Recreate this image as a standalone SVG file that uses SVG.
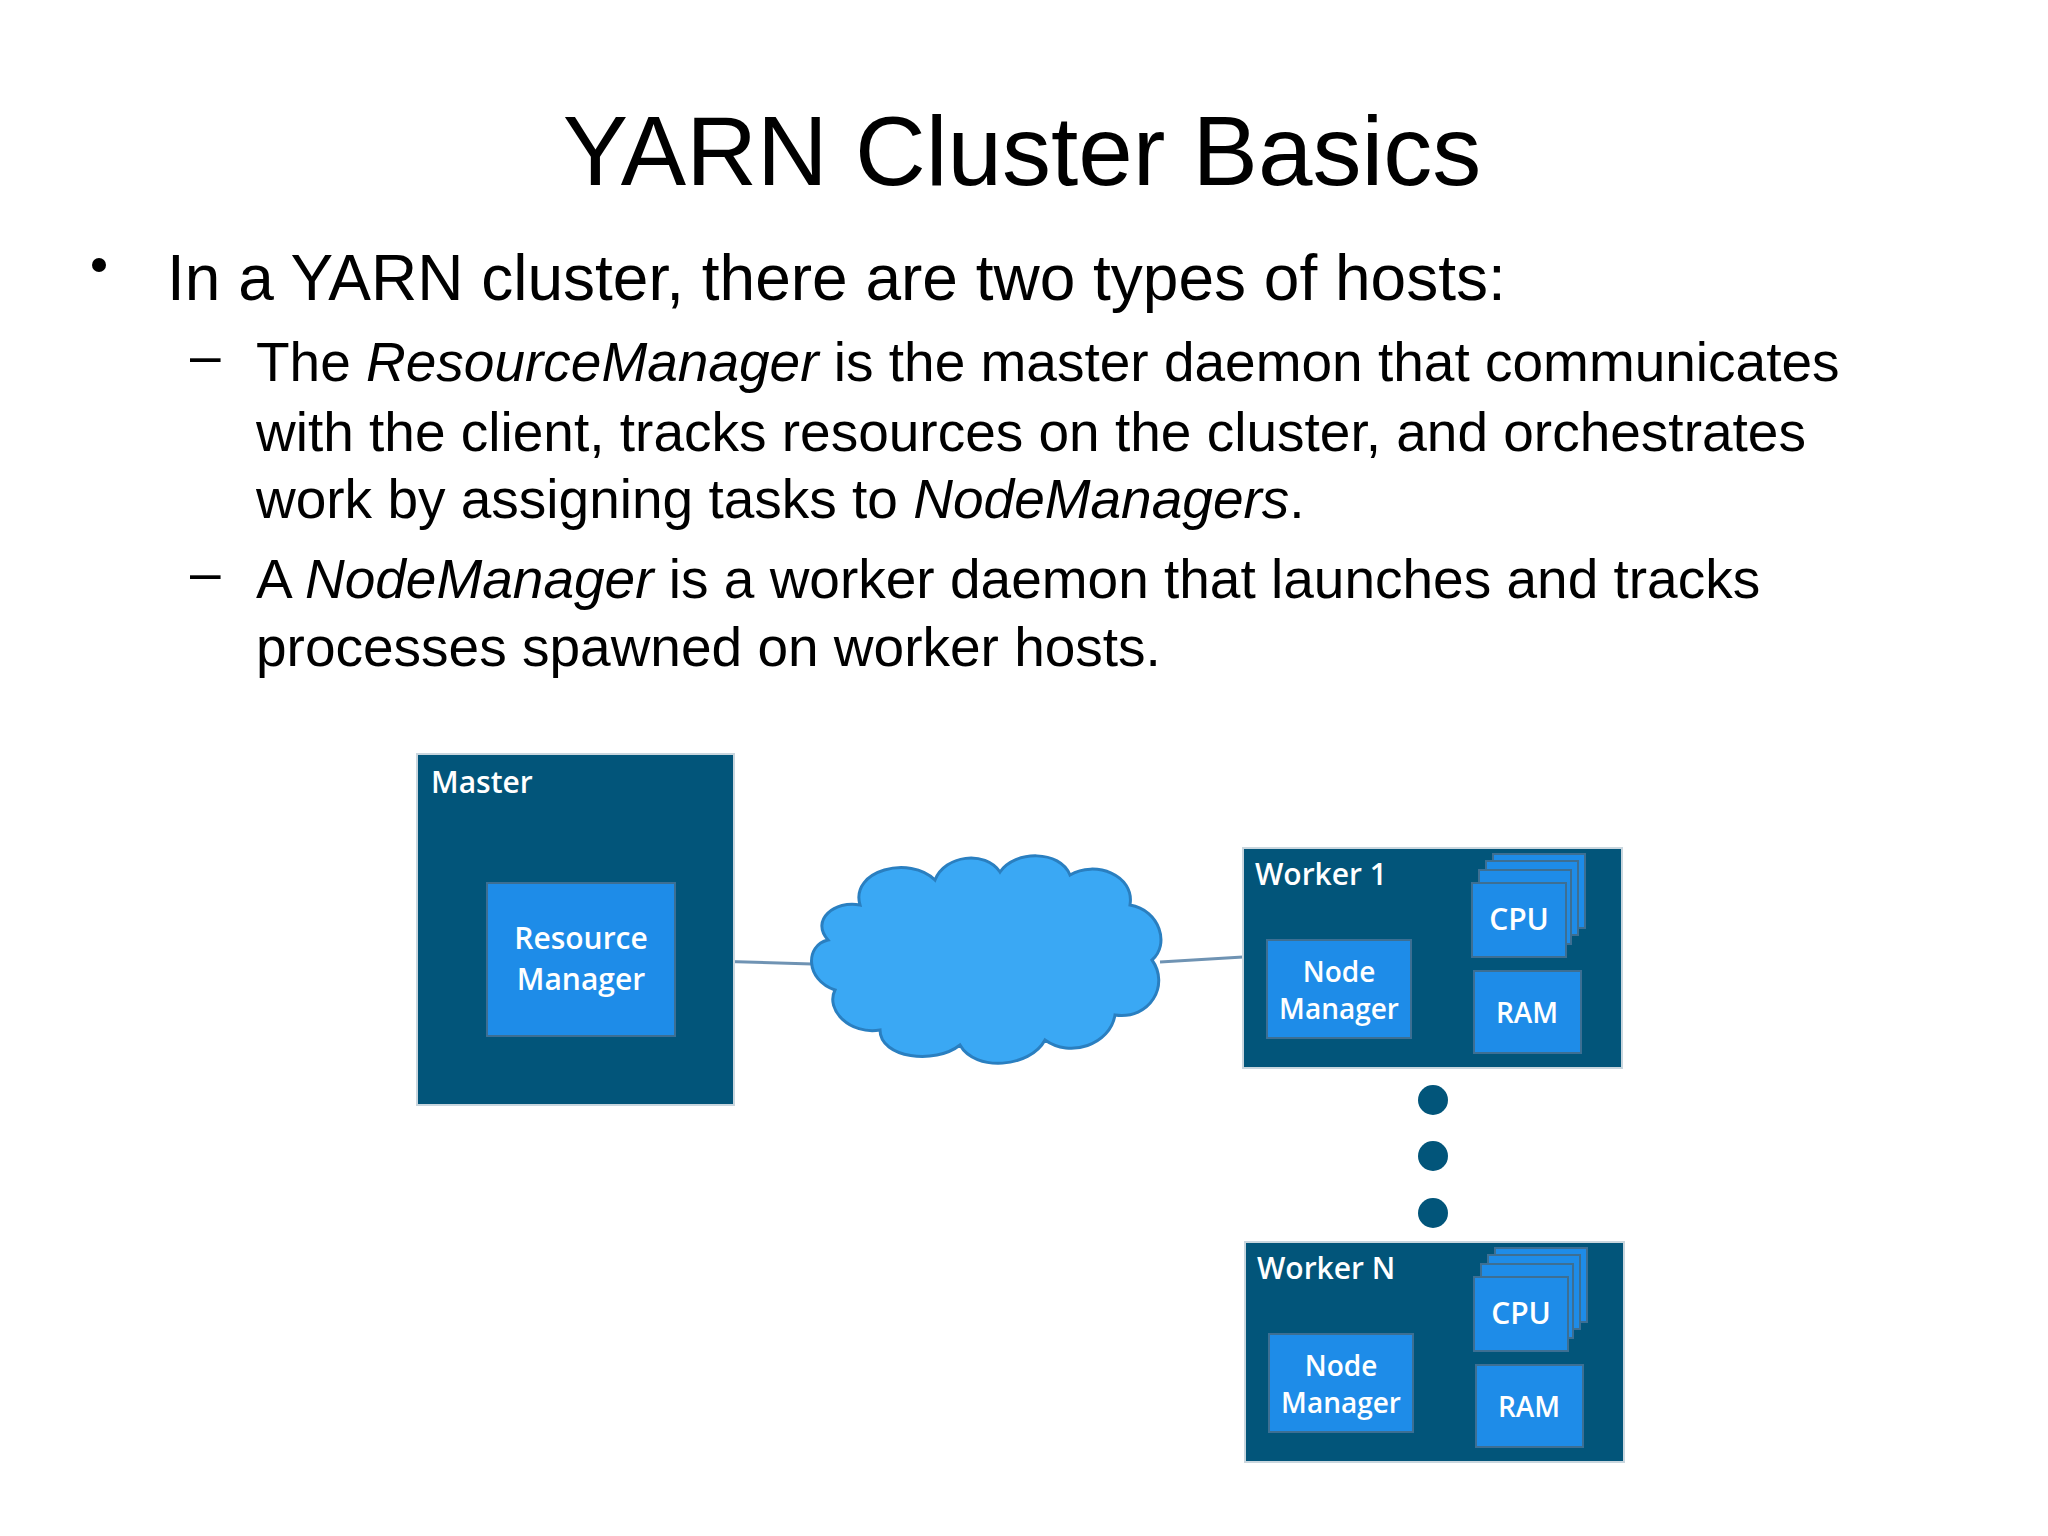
<svg xmlns="http://www.w3.org/2000/svg" width="2048" height="1536" viewBox="0 0 2048 1536">
<style>
.t{font-family:"Liberation Sans",Arial,sans-serif;fill:#000}
.b{font-family:"Open Sans","Liberation Sans",sans-serif;font-weight:600;fill:#fff}
.host{fill:#02557a;stroke:#c9d6de;stroke-width:2}
.box{fill:#1e8ce8;stroke:#3d6f93;stroke-width:2}
</style>
<rect width="2048" height="1536" fill="#fff"/>
<text class="t" x="1022" y="185" font-size="98" text-anchor="middle">YARN Cluster Basics</text>
<circle cx="99" cy="265" r="7" fill="#000"/>
<text class="t" x="167" y="300" font-size="64">In a YARN cluster, there are two types of hosts:</text>
<g class="t" font-size="55">
<text x="190" y="374">–</text>
<text x="256" y="381">The <tspan font-style="italic">ResourceManager</tspan> is the master daemon that communicates</text>
<text x="256" y="451">with the client, tracks resources on the cluster, and orchestrates</text>
<text x="256" y="518">work by assigning tasks to <tspan font-style="italic">NodeManagers</tspan>.</text>
<text x="190" y="591">–</text>
<text x="256" y="598">A <tspan font-style="italic">NodeManager</tspan> is a worker daemon that launches and tracks</text>
<text x="256" y="666">processes spawned on worker hosts.</text>
</g>
<g id="connectors" stroke="#6f93b3" stroke-width="3" fill="none">
<line x1="675" y1="960" x2="812" y2="964"/>
<line x1="1160" y1="962" x2="1243" y2="957"/>
</g>
<g id="master">
<rect class="host" x="417" y="754" width="317" height="351"/>
<text class="b" x="431" y="793" font-size="30">Master</text>
<rect class="box" x="487" y="883" width="188" height="153"/>
<text class="b" x="581" y="949" font-size="30" text-anchor="middle">Resource</text>
<text class="b" x="581" y="990" font-size="30" text-anchor="middle">Manager</text>
</g>
<g id="cloud">
<path d="M860,905 C850,870 910,855 935,880 C945,855 985,850 1000,872 C1015,850 1060,850 1070,875 C1095,860 1135,875 1130,905 C1160,910 1170,945 1152,960 C1170,985 1150,1020 1115,1015 C1110,1045 1070,1058 1045,1040 C1030,1068 975,1072 960,1045 C935,1065 880,1058 880,1030 C850,1035 825,1010 835,990 C805,980 805,945 828,940 C810,920 835,900 860,905 Z" fill="#3aa8f4" stroke="#2a7fc0" stroke-width="3"/>
</g>
<g id="worker1">
<rect class="host" x="1243" y="848" width="379" height="220"/>
<text class="b" x="1255" y="885" font-size="30">Worker 1</text>
<rect class="box" x="1267" y="940" width="144" height="98"/>
<text class="b" x="1339" y="982" font-size="28" text-anchor="middle">Node</text>
<text class="b" x="1339" y="1019" font-size="28" text-anchor="middle">Manager</text>
<rect class="box" x="1493" y="854" width="92" height="74"/>
<rect class="box" x="1486" y="861" width="92" height="74"/>
<rect class="box" x="1479" y="870" width="92" height="74"/>
<rect class="box" x="1472" y="883" width="94" height="74"/>
<text class="b" x="1519" y="930" font-size="30" text-anchor="middle">CPU</text>
<rect class="box" x="1474" y="971" width="107" height="82"/>
<text class="b" x="1527" y="1023" font-size="28" text-anchor="middle">RAM</text>
</g>
<g id="dots" fill="#02557a">
<circle cx="1433" cy="1100" r="15"/>
<circle cx="1433" cy="1156" r="15"/>
<circle cx="1433" cy="1213" r="15"/>
</g>
<g id="workerN" transform="translate(2,394)">
<rect class="host" x="1243" y="848" width="379" height="220"/>
<text class="b" x="1255" y="885" font-size="30">Worker N</text>
<rect class="box" x="1267" y="940" width="144" height="98"/>
<text class="b" x="1339" y="982" font-size="28" text-anchor="middle">Node</text>
<text class="b" x="1339" y="1019" font-size="28" text-anchor="middle">Manager</text>
<rect class="box" x="1493" y="854" width="92" height="74"/>
<rect class="box" x="1486" y="861" width="92" height="74"/>
<rect class="box" x="1479" y="870" width="92" height="74"/>
<rect class="box" x="1472" y="883" width="94" height="74"/>
<text class="b" x="1519" y="930" font-size="30" text-anchor="middle">CPU</text>
<rect class="box" x="1474" y="971" width="107" height="82"/>
<text class="b" x="1527" y="1023" font-size="28" text-anchor="middle">RAM</text>
</g>
</svg>
